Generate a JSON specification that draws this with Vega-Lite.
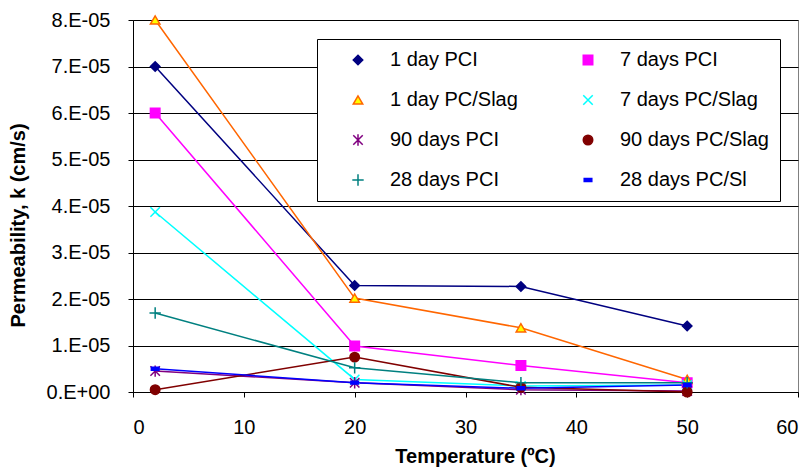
{
  "$schema": "https://vega.github.io/schema/vega-lite/v6.json",
  "width": 665,
  "height": 372,
  "autosize": {"type": "none"},
  "padding": {"left": 133, "top": 20, "right": 12, "bottom": 79},
  "background": "white",
  "config": {
    "view": {"stroke": "#808080", "strokeWidth": 1},
    "font": "Liberation Sans"
  },
  "data": {
    "values": [
      {"series": "1 day PCI", "temp": 2, "k": 7.0e-5},
      {"series": "1 day PCI", "temp": 20, "k": 2.29e-5},
      {"series": "1 day PCI", "temp": 35, "k": 2.27e-5},
      {"series": "1 day PCI", "temp": 50, "k": 1.42e-5},
      {"series": "7 days PCI", "temp": 2, "k": 6.0e-5},
      {"series": "7 days PCI", "temp": 20, "k": 0.99e-5},
      {"series": "7 days PCI", "temp": 35, "k": 0.57e-5},
      {"series": "7 days PCI", "temp": 50, "k": 0.2e-5},
      {"series": "1 day PC/Slag", "temp": 2, "k": 8.0e-5},
      {"series": "1 day PC/Slag", "temp": 20, "k": 2.02e-5},
      {"series": "1 day PC/Slag", "temp": 35, "k": 1.38e-5},
      {"series": "1 day PC/Slag", "temp": 50, "k": 0.27e-5},
      {"series": "7 days PC/Slag", "temp": 2, "k": 3.87e-5},
      {"series": "7 days PC/Slag", "temp": 20, "k": 0.27e-5},
      {"series": "7 days PC/Slag", "temp": 35, "k": 0.13e-5},
      {"series": "7 days PC/Slag", "temp": 50, "k": 0.15e-5},
      {"series": "90 days PCI", "temp": 2, "k": 0.45e-5},
      {"series": "90 days PCI", "temp": 20, "k": 0.2e-5},
      {"series": "90 days PCI", "temp": 35, "k": 0.05e-5},
      {"series": "90 days PCI", "temp": 50, "k": 0.02e-5},
      {"series": "90 days PC/Slag", "temp": 2, "k": 0.05e-5},
      {"series": "90 days PC/Slag", "temp": 20, "k": 0.75e-5},
      {"series": "90 days PC/Slag", "temp": 35, "k": 0.1e-5},
      {"series": "90 days PC/Slag", "temp": 50, "k": 0.0},
      {"series": "28 days PCI", "temp": 2, "k": 1.7e-5},
      {"series": "28 days PCI", "temp": 20, "k": 0.52e-5},
      {"series": "28 days PCI", "temp": 35, "k": 0.2e-5},
      {"series": "28 days PCI", "temp": 50, "k": 0.2e-5},
      {"series": "28 days PC/Sl", "temp": 2, "k": 0.5e-5},
      {"series": "28 days PC/Sl", "temp": 20, "k": 0.2e-5},
      {"series": "28 days PC/Sl", "temp": 35, "k": 0.08e-5},
      {"series": "28 days PC/Sl", "temp": 50, "k": 0.15e-5}
    ]
  },
  "encoding": {
    "x": {
      "field": "temp", "type": "quantitative",
      "scale": {"domain": [0, 60], "nice": false},
      "axis": {
        "values": [0, 10, 20, 30, 40, 50, 60],
        "grid": false,
        "title": "Temperature (ºC)",
        "titleFont": "Liberation Sans", "titleFontSize": 20, "titleFontWeight": "bold", "titleColor": "black",
        "titlePadding": 9, "titleX": 342,
        "labelFont": "Liberation Sans", "labelFontSize": 20, "labelColor": "black",
        "domainColor": "black", "tickColor": "black", "tickSize": 5, "labelPadding": 20
      }
    },
    "y": {
      "field": "k", "type": "quantitative",
      "scale": {"domain": [0, 8e-5], "nice": false},
      "axis": {
        "values": [0, 1e-5, 2e-5, 3e-5, 4e-5, 5e-5, 6e-5, 7e-5, 8e-5],
        "labelExpr": "datum.value == 0 ? '0.E+00' : toString(round(datum.value * 100000)) + '.E-05'",
        "grid": true, "gridColor": "black", "gridWidth": 1,
        "title": "Permeability, k (cm/s)",
        "titleFont": "Liberation Sans", "titleFontSize": 20, "titleFontWeight": "bold", "titleColor": "black",
        "titlePadding": 18, "titleY": 205,
        "labelFont": "Liberation Sans", "labelFontSize": 20, "labelColor": "black",
        "domainColor": "black", "tickColor": "black", "tickSize": 5, "labelPadding": 18
      }
    }
  },
  "layer": [
    {
      "mark": {"type": "line", "strokeWidth": 1.5},
      "encoding": {
        "stroke": {"field": "series", "type": "nominal", "sort": null,
          "scale": {
            "domain": ["1 day PCI", "7 days PCI", "1 day PC/Slag", "7 days PC/Slag", "90 days PCI", "90 days PC/Slag", "28 days PCI", "28 days PC/Sl"],
            "range": ["#000080", "#FF00FF", "#FF6600", "#00FFFF", "#800080", "#800000", "#008080", "#0000FF"]
          }
        },
        "detail": {"field": "series"}
      }
    },
    {
      "mark": {"type": "point", "filled": false, "size": 90, "strokeWidth": 1.5, "opacity": 1},
      "encoding": {
        "stroke": {"field": "series", "type": "nominal", "sort": null,
          "scale": {
            "domain": ["1 day PCI", "7 days PCI", "1 day PC/Slag", "7 days PC/Slag", "90 days PCI", "90 days PC/Slag", "28 days PCI", "28 days PC/Sl"],
            "range": ["#000080", "#FF00FF", "#FF6600", "#00FFFF", "#800080", "#800000", "#008080", "#0000FF"]
          },
          "legend": {
            "title": null,
            "orient": "none", "legendX": 184, "legendY": 19,
            "direction": "horizontal", "columns": 2,
            "strokeColor": "black", "fillColor": "white",
            "padding": 11, "rowPadding": 20, "columnPadding": 40,
            "labelFont": "Liberation Sans", "labelFontSize": 20, "labelColor": "black",
            "labelLimit": 220, "symbolSize": 90, "symbolStrokeWidth": 1.5, "labelOffset": 22,
            "symbolOffset": 20,
            "encode": {
              "symbols": {
                "shape": {"value": {"signal": "datum.value == '1 day PCI' ? 'M-4.6,0L4.6,0M0,-1L1,0L0,1L-1,0Z' : datum.value == '7 days PCI' ? 'M-4.6,0L4.6,0M-0.95,-0.95L0.95,-0.95L0.95,0.95L-0.95,0.95Z' : datum.value == '1 day PC/Slag' ? 'M-4.6,0L-0.6,0M0.6,0L4.6,0M0,-1.1L1.1,0.9L-1.1,0.9Z' : datum.value == '7 days PC/Slag' ? 'M-4.6,0L4.6,0M-1,-1L1,1M1,-1L-1,1' : datum.value == '90 days PCI' ? 'M-4.6,0L4.6,0M-1,-1L1,1M1,-1L-1,1M0,-1.2L0,1.2' : datum.value == '90 days PC/Slag' ? 'M-4.6,0L4.6,0M-1,0A1,1 0 1,1 1,0A1,1 0 1,1 -1,0Z' : datum.value == '28 days PCI' ? 'M-4.6,0L4.6,0M0,-1.2L0,1.2' : 'M-4.6,0L4.6,0M-0.8,-0.3L0.8,-0.3L0.8,0.3L-0.8,0.3Z'"}}
              }
            }
          }
        },
        "fill": {"field": "series", "type": "nominal", "sort": null,
          "scale": {
            "domain": ["1 day PCI", "7 days PCI", "1 day PC/Slag", "7 days PC/Slag", "90 days PCI", "90 days PC/Slag", "28 days PCI", "28 days PC/Sl"],
            "range": ["#000080", "#FF00FF", "#FFFF00", "transparent", "transparent", "#800000", "transparent", "#0000FF"]
          }
        },
        "shape": {"field": "series", "type": "nominal", "sort": null,
          "legend": null,
          "scale": {
            "domain": ["1 day PCI", "7 days PCI", "1 day PC/Slag", "7 days PC/Slag", "90 days PCI", "90 days PC/Slag", "28 days PCI", "28 days PC/Sl"],
            "range": ["diamond", "square", "triangle-up", "M-1,-1L1,1M1,-1L-1,1", "M-1,-1L1,1M1,-1L-1,1M0,-1.2L0,1.2", "circle", "M0,-1.2L0,1.2M-1.2,0L1.2,0", "M-0.8,-0.3L0.8,-0.3L0.8,0.3L-0.8,0.3Z"]
          }
        }
      }
    }
  ]
}
